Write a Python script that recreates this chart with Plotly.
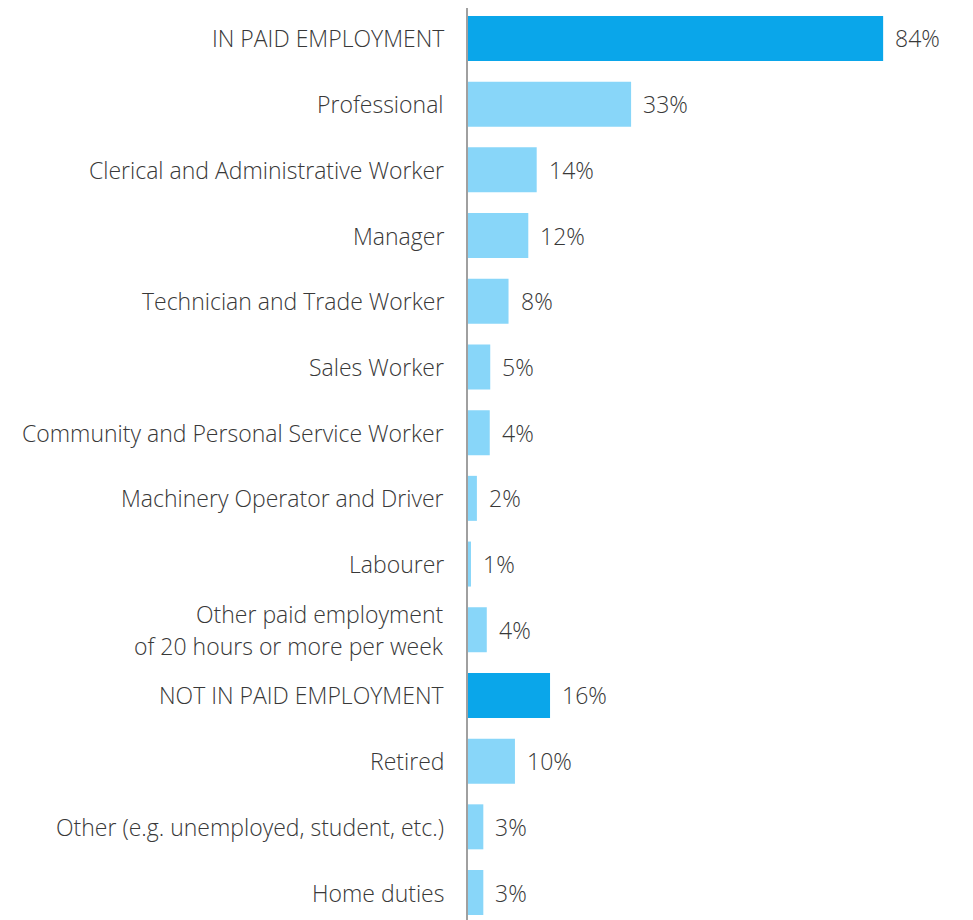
import plotly.graph_objects as go

categories = [
    "IN PAID EMPLOYMENT",
    "Professional",
    "Clerical and Administrative Worker",
    "Manager",
    "Technician and Trade Worker",
    "Sales Worker",
    "Community and Personal Service Worker",
    "Machinery Operator and Driver",
    "Labourer",
    "Other paid employment<br>of 20 hours or more per week",
    "NOT IN PAID EMPLOYMENT",
    "Retired",
    "Other (e.g. unemployed, student, etc.)",
    "Home duties",
]
values = [84, 33, 13.9, 12.2, 8.2, 4.5, 4.4, 1.8, 0.6, 3.8, 16.6, 9.5, 3.1, 3.1]
value_labels = ["84%", "33%", "14%", "12%", "8%", "5%", "4%", "2%", "1%", "4%", "16%", "10%", "3%", "3%"]
is_total = [True, False, False, False, False, False, False, False, False, False, True, False, False, False]

DARK = "#0AA6EA"
LIGHT = "#88D6F9"
TEXT = "#383838"
FONT = "Open Sans"
FS = 23

colors = [DARK if t else LIGHT for t in is_total]
ypos = list(range(len(categories)))

fig = go.Figure(go.Bar(
    x=values, y=ypos, orientation="h",
    marker=dict(color=colors, line=dict(width=0)),
    width=0.685, hoverinfo="skip",
))

annotations = []
for i, (cat, v, lab) in enumerate(zip(categories, values, value_labels)):
    lines = cat.split("<br>")
    n = len(lines)
    for j, line in enumerate(lines):
        annotations.append(dict(
            x=0, xref="paper", y=i, yref="y", xanchor="right", yanchor="middle",
            xshift=-22, yshift=(n - 1) * 16 - j * 32,
            text=line, showarrow=False, align="right",
            font=dict(family=FONT, size=FS, color=TEXT, weight=300),
        ))
    annotations.append(dict(
        x=v, xref="x", y=i, yref="y", xanchor="left", yanchor="middle",
        xshift=10, text=lab, showarrow=False,
        font=dict(family=FONT, size=FS, color=TEXT, weight=300),
    ))

fig.update_layout(
    width=973, height=920,
    margin=dict(l=460, r=0, t=0, b=0),
    paper_bgcolor="white", plot_bgcolor="white",
    showlegend=False,
    annotations=annotations,
    xaxis=dict(range=[0, 103.8], showgrid=False, zeroline=False,
               showticklabels=False, showline=False, fixedrange=True),
    yaxis=dict(range=[13.54, -0.464], showgrid=False, zeroline=False,
               showticklabels=False, showline=True, linecolor="#A0A0A0",
               linewidth=2, fixedrange=True),
)

fig.write_html("out.html")
